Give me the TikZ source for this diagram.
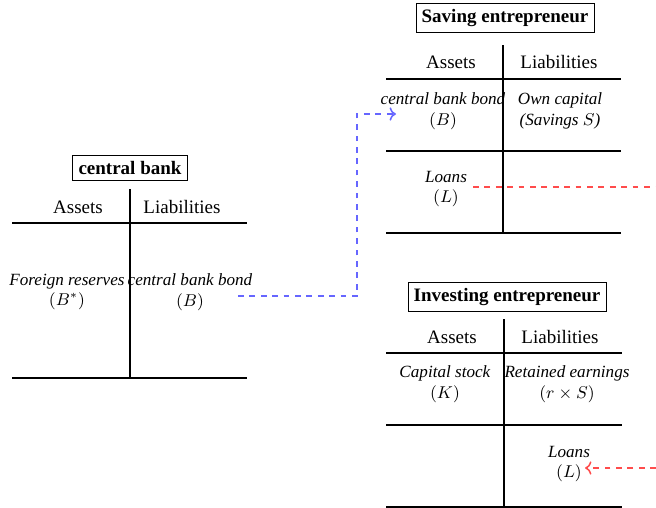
\documentclass[tikz,border=0pt]{standalone}
\usepackage{fontspec}
\setmainfont{Liberation Serif}
\usepackage{amsmath}
\usetikzlibrary{arrows.meta}
\tikzset{%
  acctitle/.style={draw, font=\bfseries, inner sep=3pt},
  acchead/.style={inner sep=1pt},
  accitem/.style={font=\small, align=center, inner sep=1pt},
  tline/.style={thick},
  bondflow/.style={blue!60, thick, dashed, ->},
  loanflow/.style={red!70, thick, dashed, ->}
}

\begin{document}
\begin{tikzpicture}[x=0.526pt,y=-0.526pt]
\useasboundingbox (0,0) rectangle (656,508);
% central bank
\node[acctitle] (cbtitle) at (130,168) {central bank};
\draw[tline] (12,223) -- (247,223);
\draw[tline] (12,378) -- (247,378);
\draw[tline] (130,189) -- (130,378);
\node[acchead] (cbassets) at (78,207) {Assets};
\node[acchead] (cbliab) at (182,207) {Liabilities};
\node[accitem] (cbres) at (67,292) {\textit{Foreign reserves}\\$(B^*)$};
\node[accitem] (cbbond) at (190,292) {\textit{central bank bond}\\$(B)$};
% saving entrepreneur
\node[acctitle] (svtitle) at (505,18) {Saving entrepreneur};
\draw[tline] (386,79) -- (621,79);
\draw[tline] (386,151) -- (621,151);
\draw[tline] (386,233) -- (621,233);
\draw[tline] (503,45) -- (503,233);
\node[acchead] (svassets) at (451,62) {Assets};
\node[acchead] (svliab) at (559,62) {Liabilities};
\node[accitem] (svbond) at (443,111) {\textit{central bank bond}\\$(B)$};
\node[accitem] (svcap) at (560,111) {\textit{Own capital}\\\textit{(Savings $S$)}};
\node[accitem] (svloans) at (446,189) {\textit{Loans}\\$(L)$};
% investing entrepreneur
\node[acctitle] (ivtitle) at (507,297) {Investing entrepreneur};
\draw[tline] (386,353) -- (622,353);
\draw[tline] (386,425) -- (622,425);
\draw[tline] (386,507) -- (622,507);
\draw[tline] (504,319) -- (504,507);
\node[acchead] (ivassets) at (452,337) {Assets};
\node[acchead] (ivliab) at (560,337) {Liabilities};
\node[accitem] (ivstock) at (445,384) {\textit{Capital stock}\\$(K)$};
\node[accitem] (ivearn) at (567,384) {\textit{Retained earnings}\\$(r\times S)$};
\node[accitem] (ivloans) at (569,464) {\textit{Loans}\\$(L)$};
% flows
\coordinate (bstart) at (238,296);
\coordinate (bturn) at (357,296);
\coordinate (bend) at (396,114);
\draw[bondflow] (bstart) -- (bturn) |- (bend);
\coordinate (lstart) at (473,187);
\coordinate (lout) at (656,187);
\draw[loanflow, -] (lstart) -- (lout);
\coordinate (lin) at (656,468);
\coordinate (lend) at (585,468);
\draw[loanflow] (lin) -- (lend);
\end{tikzpicture}
\end{document}
